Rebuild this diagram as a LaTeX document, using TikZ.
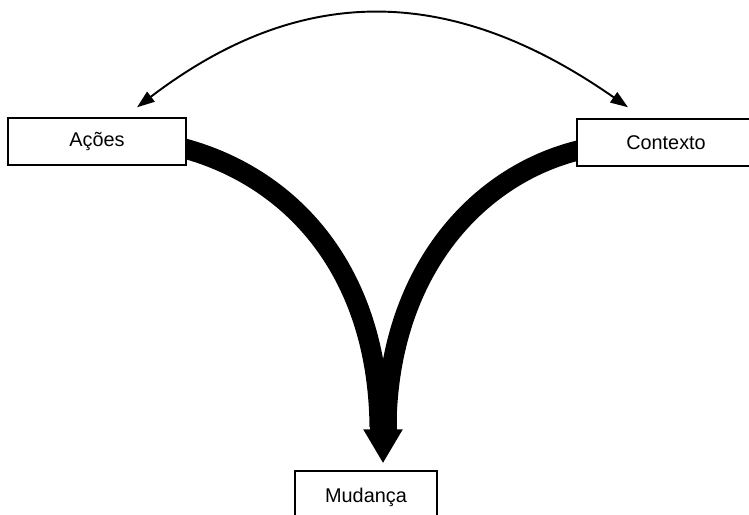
\documentclass[tikz,border=0pt]{standalone}
\usepackage{fontspec}
\setmainfont{Liberation Sans}
\usetikzlibrary{arrows.meta,calc,backgrounds}
\tikzset{link/.style={line width=1.1pt, {Triangle[length=10pt, width=7pt]}-{Triangle[length=10pt, width=7pt]}},
  flow/.style={line width=0.4cm},
  box/.style={draw, thick, fill=white, font=\fontsize{11.3}{13}\selectfont, minimum width=3.56cm, minimum height=0.94cm}}

\begin{document}
\begin{tikzpicture}[x=0.02cm, y=-0.02cm]
  \useasboundingbox (0,0) rectangle (749,514);
  \node[box] (acoes) at (97,141.5) {Ações};
  \node[box] (contexto) at (666,142.5) {Contexto};
  \node[box, minimum width=2.84cm, minimum height=1.04cm] (mudanca) at (366,497) {Mudança};
  % where both bands run together
  \coordinate (merge) at ($(mudanca.north)+(17,-43)$);
  \coordinate (tip) at ($(mudanca.north)+(17,-7)$);
  % thin two-way arc on top
  \draw[link] ($(acoes.north)+(40,-10)$)
    .. controls (300,-17) and (450,-17) .. ($(contexto.north)+(-38,-11)$);
  % the two heavy bands
  \begin{scope}[on background layer]
    \draw[flow] ($(acoes.east)+(-8,5.5)$) .. controls (290,175) and ($(merge)+(-5,-158)$) .. ($(merge)+(-3.5,0)$);
    \draw[flow] ($(contexto.west)+(8,6.5)$) .. controls (480,172) and ($(merge)+(5,-158)$) .. ($(merge)+(3.5,0)$);
    \draw[line width=0.54cm, -{Triangle[length=0.68cm, width=0.74cm]}] ($(merge)+(0,-40)$) -- (tip);
  \end{scope}
\end{tikzpicture}
\end{document}
